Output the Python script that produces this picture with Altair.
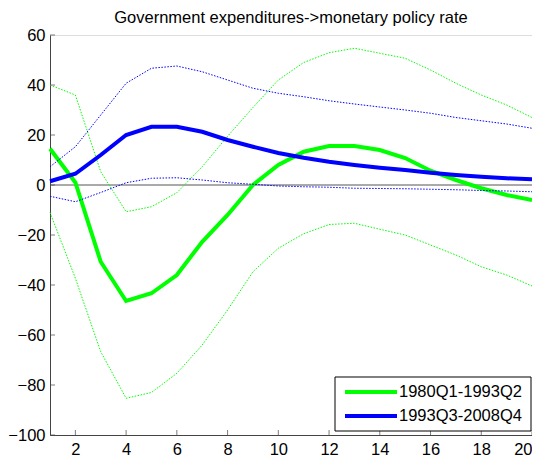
import altair as alt
import pandas as pd

periods = list(range(1, 21))
labels = ["1980Q1-1993Q2", "1993Q3-2008Q4"]
colors = ["#00ff00", "#0000ff"]

green_mid = [14.5, 1.0, -30.7, -46.4, -43.3, -36.0, -22.7, -12.0, 0.0, 8.0,
             13.3, 15.6, 15.6, 14.0, 10.8, 5.7, 2.0, -1.3, -4.0, -6.0]
green_lo = [-11.0, -37.3, -66.7, -85.3, -83.0, -75.3, -64.0, -50.0, -34.7, -25.3,
            -19.5, -15.8, -15.3, -17.7, -20.0, -24.0, -28.0, -32.7, -36.0, -40.4]
green_hi = [40.0, 36.0, 5.3, -10.7, -8.7, -3.1, 7.3, 19.5, 31.0, 42.0,
            49.0, 52.9, 54.7, 52.7, 50.7, 46.0, 40.7, 36.0, 32.0, 27.0]

blue_mid = [1.5, 4.5, 12.0, 20.0, 23.3, 23.3, 21.3, 18.0, 15.3, 12.8,
            10.9, 9.3, 8.0, 6.9, 6.0, 4.9, 4.0, 3.3, 2.7, 2.3]
blue_lo = [-4.5, -6.7, -3.0, 0.9, 2.7, 2.9, 2.0, 0.9, 0.3, -0.4,
           -0.7, -0.9, -1.3, -1.4, -1.5, -1.7, -1.9, -2.2, -2.4, -2.7]
blue_hi = [7.3, 15.3, 28.0, 40.7, 46.7, 47.6, 45.3, 42.0, 38.7, 36.7,
           35.3, 33.7, 32.4, 31.2, 30.0, 28.7, 27.0, 25.7, 24.4, 22.7]

x_ticks = [2, 4, 6, 8, 10, 12, 14, 16, 18, 20]
y_ticks = [-100, -80, -60, -40, -20, 0, 20, 40, 60]

FONT = "Liberation Sans"
AXIS_COLOR = "#444444"
FS = 16.5

df_mid = pd.DataFrame({
    "period": periods * 2,
    "value": green_mid + blue_mid,
    "sample": [labels[0]] * 20 + [labels[1]] * 20,
})
df_green_band = pd.DataFrame({
    "period": periods * 2,
    "value": green_lo + green_hi,
    "band": ["lo"] * 20 + ["hi"] * 20,
})
df_blue_band = pd.DataFrame({
    "period": periods * 2,
    "value": blue_lo + blue_hi,
    "band": ["lo"] * 20 + ["hi"] * 20,
})
df_zero = pd.DataFrame({"value": [0]})
df_xt = pd.DataFrame({"period": x_ticks})
df_yt = pd.DataFrame({"value": y_ticks})

X = alt.X("period:Q",
          scale=alt.Scale(domain=[1, 20], nice=False, zero=False),
          axis=alt.Axis(values=x_ticks, title=None, grid=False, tickSize=0,
                        domainColor=AXIS_COLOR, labelFont=FONT, labelFontSize=FS,
                        labelColor="black", labelPadding=6, labelFlush=True))
Y = alt.Y("value:Q",
          scale=alt.Scale(domain=[-100, 60], nice=False, zero=False),
          axis=alt.Axis(values=y_ticks, title=None, grid=False, tickSize=0,
                        domainColor=AXIS_COLOR, labelFont=FONT, labelFontSize=FS,
                        labelColor="black", labelPadding=5, labelFlush=False))

zero = alt.Chart(df_zero).mark_rule(color="#555555", strokeWidth=1).encode(y=Y)

xt = alt.Chart(df_xt).mark_tick(orient="vertical", size=5, thickness=1,
                                color=AXIS_COLOR).encode(x=X, y=alt.value(397.5))
yt = alt.Chart(df_yt).mark_tick(orient="horizontal", size=5, thickness=1,
                                color=AXIS_COLOR).encode(y=Y, x=alt.value(2.5))

green_band = alt.Chart(df_green_band).mark_line(
    color=colors[0], strokeWidth=1, strokeDash=[1.5, 1.5]
).encode(x=X, y=Y, detail="band:N")
blue_band = alt.Chart(df_blue_band).mark_line(
    color=colors[1], strokeWidth=1, strokeDash=[1.5, 1.5]
).encode(x=X, y=Y, detail="band:N")

mid = alt.Chart(df_mid).mark_line(strokeWidth=4).encode(
    x=X, y=Y,
    color=alt.Color("sample:N",
                    scale=alt.Scale(domain=labels, range=colors),
                    legend=None),
)

# manual legend box (layout positions in pixels)
df_one = pd.DataFrame({"k": [0]})
legend_box = alt.Chart(df_one).mark_rect(fill="white", stroke="black", strokeWidth=1).encode(
    x=alt.value(285), x2=alt.value(481), y=alt.value(342), y2=alt.value(396))

legend_layers = [legend_box]
row_y = [357, 381]
for lab, col, ry in zip(labels, colors, row_y):
    d = pd.DataFrame({"label": [lab]})
    legend_layers.append(
        alt.Chart(d).mark_rule(color=col, strokeWidth=4).encode(
            x=alt.value(295), x2=alt.value(347), y=alt.value(ry)))
    legend_layers.append(
        alt.Chart(d).mark_text(align="left", baseline="middle", font=FONT,
                               fontSize=FS, color="black").encode(
            x=alt.value(349), y=alt.value(ry), text="label:N"))

chart = alt.layer(zero, green_band, mid, blue_band, xt, yt, *legend_layers).properties(
    width=482, height=400,
    title=alt.TitleParams("Government expenditures->monetary policy rate",
                          font=FONT, fontSize=FS, fontWeight="normal",
                          color="black", anchor="middle", offset=1),
    autosize=alt.AutoSizeParams(type="none"),
    padding={"left": 42, "top": 27, "right": 0, "bottom": 26},
).configure_view(stroke=None).configure(background="white")

chart.save("out.html", embed_options={"renderer": "svg", "actions": False})
